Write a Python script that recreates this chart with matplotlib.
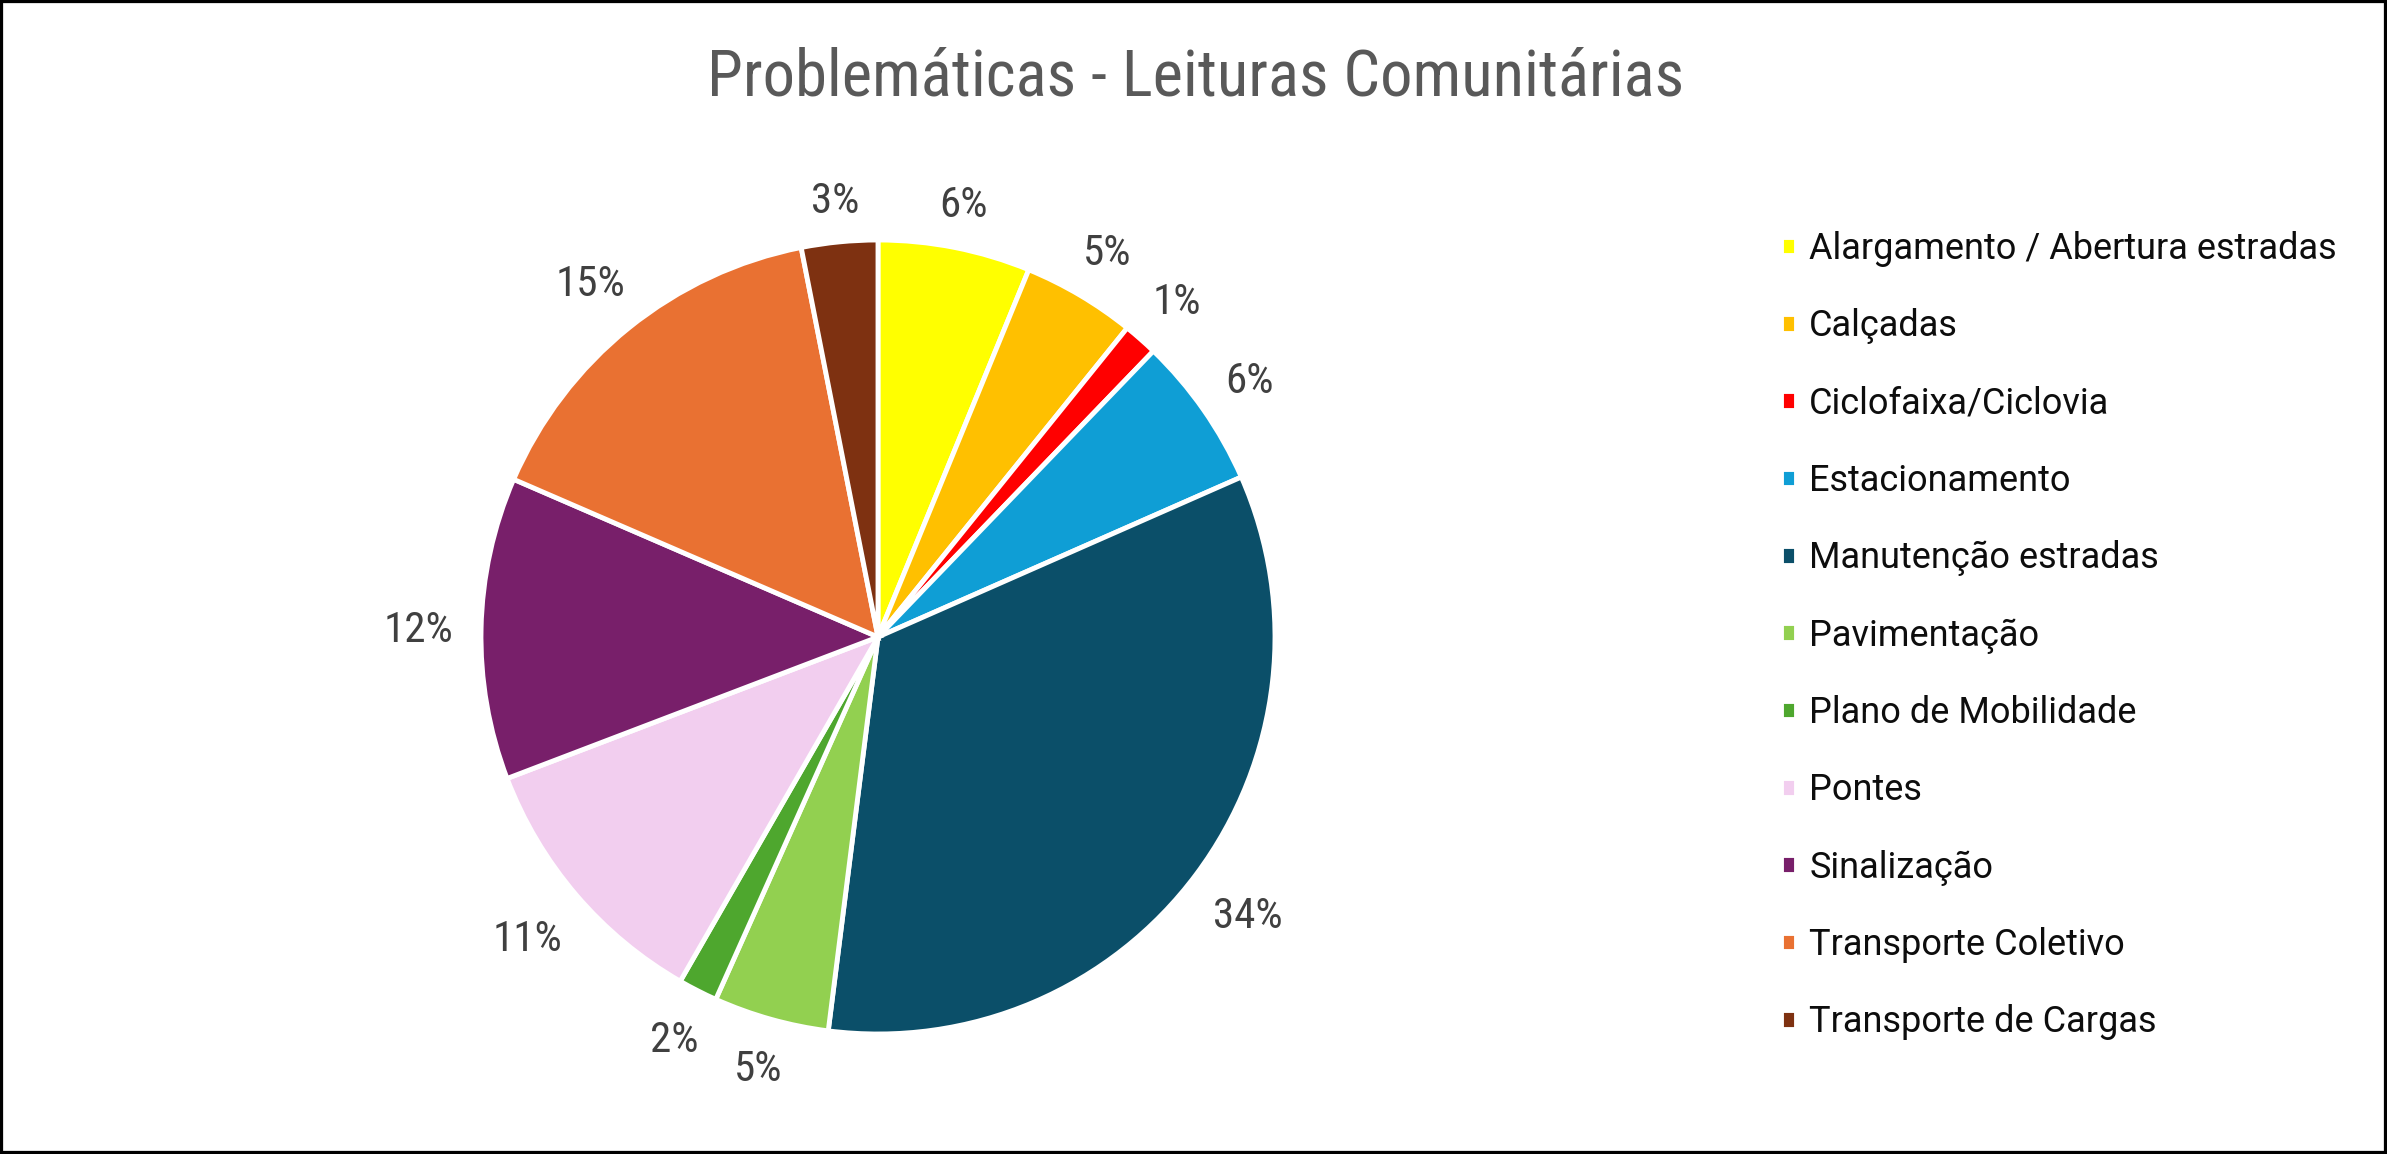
import numpy as np
import matplotlib
matplotlib.use('Agg')
import matplotlib.pyplot as plt
from matplotlib.patches import Rectangle


# Share of each problem (%)
categories = ['Alargamento / Abertura estradas', 'Calçadas', 'Ciclofaixa/Ciclovia',
              'Estacionamento', 'Manutenção estradas', 'Pavimentação',
              'Plano de Mobilidade', 'Pontes', 'Sinalização',
              'Transporte Coletivo', 'Transporte de Cargas']
shares = [6.2, 4.6, 1.4, 6.2, 33.6, 4.7, 1.6, 10.9, 12.3, 15.4, 3.1]
colors = ['#FFFF00', '#FFC000', '#FF0000', '#0F9ED5', '#0B4F69', '#92D050',
          '#4EA72E', '#F2CEEF', '#781F6A', '#E97132', '#7E3111']

title = 'Problemáticas - Leituras Comunitárias'

narrow = ['Roboto Condensed', 'Liberation Sans Narrow', 'Roboto', 'DejaVu Sans']
legend_font = ['Roboto', 'DejaVu Sans']

W, H = 2387, 1154
fig = plt.figure(figsize=(W / 100, H / 100), dpi=100)

# pie centre (878, 637) px from top-left, radius 397 px
R, cx, cy = 397, 878, 637
lim = 1.2
box = 2 * lim * R
ax = fig.add_axes([(cx - box / 2) / W, (H - cy - box / 2) / H, box / W, box / H])

label_pt = 31
wedges, texts, autotexts = ax.pie(
    shares, colors=colors, startangle=90, counterclock=False,
    autopct='%.0f%%', pctdistance=1.13,
    wedgeprops=dict(edgecolor='white', linewidth=3.5),
    textprops=dict(color='#404040', fontsize=label_pt, family=narrow))
ax.set_xlim(-lim, lim)
ax.set_ylim(-lim, lim)
ax.set_aspect('equal')
ax.axis('off')

# place labels "outside end": ink edge a fixed gap from the rim
fig.canvas.draw()
renderer = fig.canvas.get_renderer()
px = 2 * lim / box            # data units per pixel
gap = 27 * px
cap = 0.711 * label_pt * 100 / 72 * px
for w, t in zip(wedges, autotexts):
    mid = np.deg2rad((w.theta1 + w.theta2) / 2)
    ux, uy = np.cos(mid), np.sin(mid)
    tw = t.get_window_extent(renderer).width * px
    r = 1 + gap + 0.5 * (tw * abs(ux) + cap * abs(uy))
    t.set_position((r * ux, r * uy - cap / 2))
    t.set_ha('center')
    t.set_va('baseline')

fig.text(0.501, 1 - 78 / H, title, ha='center', va='center',
         fontsize=46.5, color='#595959', family=narrow)

leg = fig.legend(wedges, categories, loc='center left',
                 bbox_to_anchor=(1781 / W, 1 - 635.5 / H),
                 frameon=False, borderpad=0, borderaxespad=0,
                 handlelength=0.42, handleheight=0.42, handletextpad=0.36,
                 labelspacing=1.145, prop=dict(family=legend_font, size=26))
for t in leg.get_texts():
    t.set_color('#0D0D0D')

fig.patches.append(Rectangle((0, 0), 1, 1, transform=fig.transFigure,
                             fill=False, edgecolor='black', linewidth=4.5))

fig.savefig('out.png', dpi=100)
